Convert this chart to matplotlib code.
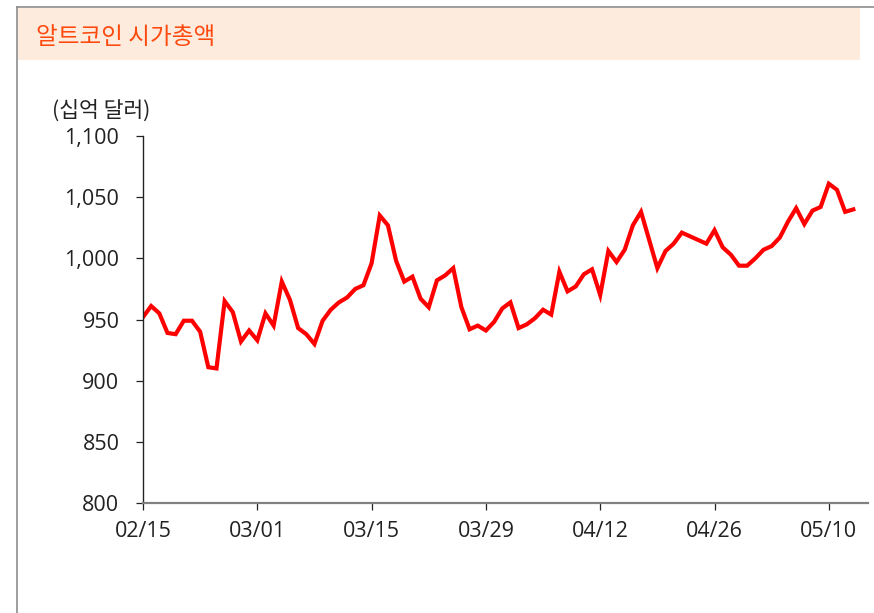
import matplotlib
matplotlib.use("Agg")
import matplotlib.pyplot as plt
from matplotlib.patches import Rectangle
from matplotlib.lines import Line2D
import numpy as np

plt.rcParams['font.family'] = ['Open Sans', 'Noto Sans CJK KR', 'DejaVu Sans']

title = '알트코인 시가총액'
unit_label = '(십억 달러)'

# daily market cap, 02/15 .. 05/13 (billion USD)
alt_cap = [952, 961, 955, 939, 938, 949, 949, 940, 911, 910,
           965, 956, 932, 941, 933, 955, 945, 981, 966, 943,
           938, 930, 949, 958, 964, 968, 975, 978, 996, 1035,
           1027, 998, 981, 985, 967, 960, 982, 986, 992, 960,
           942, 945, 941, 948, 959, 964, 943, 946, 951, 958,
           954, 989, 973, 977, 987, 991, 970, 1006, 997, 1007,
           1027, 1038, 1015, 992, 1006, 1012, 1021, 1018, 1015, 1012,
           1023, 1009, 1003, 994, 994, 1000, 1007, 1010, 1017, 1030,
           1041, 1028, 1039, 1042, 1061, 1056, 1038, 1040]
tick_days = [0, 14, 28, 42, 56, 70, 84]
tick_labels = ['02/15', '03/01', '03/15', '03/29', '04/12', '04/26', '05/10']
y_ticks = [800, 850, 900, 950, 1000, 1050, 1100]

W, H = 874, 613
fig = plt.figure(figsize=(W / 100, H / 100), dpi=100)

# frame and title band
fig.add_artist(Line2D([17 / W, 17 / W], [0, 1 - 7 / H], color='#8c8c8c', lw=1.2))
fig.add_artist(Line2D([17 / W, 1], [1 - 7 / H, 1 - 7 / H], color='#8c8c8c', lw=1.2))
fig.add_artist(Rectangle((18 / W, 1 - 60 / H), 842 / W, 52 / H,
                         facecolor='#fdebdd', edgecolor='none'))
fig.text(36 / W, 1 - 38 / H, title, fontsize=17, color='#ff4a0f',
         family=['Noto Sans CJK KR', 'DejaVu Sans'], va='center', ha='left')
fig.text(52 / W, 1 - 111 / H, unit_label, fontsize=15.5, color='#222222',
         family=['Noto Sans CJK KR', 'DejaVu Sans'], va='center', ha='left')

ax = fig.add_axes([143 / W, 1 - 503 / H, (868 - 143) / W, (503 - 136) / H])
days = np.arange(len(alt_cap))
ax.plot(days, alt_cap, color='#ff0000', lw=3, solid_joinstyle='miter')

ax.set_xlim(0, 88.8)
ax.set_ylim(800, 1100)
ax.set_yticks(y_ticks)
ax.set_yticklabels([f'{v:,}' for v in y_ticks])
ax.set_xticks(tick_days)
ax.set_xticklabels(tick_labels)

for s in ['top', 'right']:
    ax.spines[s].set_visible(False)
ax.spines['left'].set_color('#222222')
ax.spines['left'].set_linewidth(1.0)
ax.spines['bottom'].set_color('#808080')
ax.spines['bottom'].set_linewidth(1.6)
ax.tick_params(axis='y', length=5, width=0.9, color='#222222', labelsize=15.5,
               pad=12, labelcolor='#222222')
ax.tick_params(axis='x', length=5, width=0.9, color='#222222', labelsize=15.5,
               pad=8, labelcolor='#222222')

fig.savefig('out.png', dpi=100)
